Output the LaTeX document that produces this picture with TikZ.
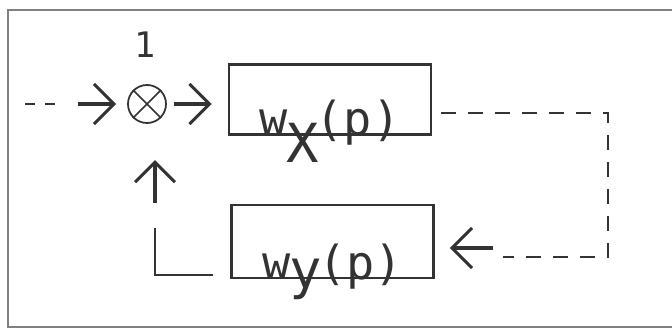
\documentclass[tikz,border=0pt]{standalone}
\usepackage{fontspec}
\setmonofont{DejaVu Sans Mono}
\usepackage{tikz}
\usetikzlibrary{positioning,arrows.meta,calc}

\newcommand{\lowsub}[2]{\raisebox{#1}{\fontsize{46}{50}\selectfont #2}}

\begin{document}
\begin{tikzpicture}[x=0.03cm,y=-0.03cm,
  blk/.style={draw=black!80,line width=2.4pt,minimum width=6.06cm,
              minimum height=2.1cm,inner sep=0pt},
  lbl/.style={font=\ttfamily\fontsize{40}{44}\selectfont,text=black!80,inner sep=0pt,anchor=base},
  arr/.style={draw=black!80,line width=2.8pt,
              -{Straight Barb[length=6mm,width=12mm,line width=2.6pt]}},
  ln/.style={draw=black!80,line width=2.2pt},
  dsh/.style={ln,line width=1.9pt,dash pattern=on 0.45cm off 0.36cm},
  frm/.style={draw=black!50,line width=1pt}]
\useasboundingbox (0,0) rectangle (672,329);
\draw[frm] (672,10) -- (8,10) -- (8,327) -- (672,327);
% multiplier and the two blocks
\node[draw=black!80,circle,line width=1.5pt,minimum size=1.14cm,inner sep=0pt] (mul) at (147,104) {};
\draw[black!80,line width=1.3pt] (mul.north west) -- (mul.south east) (mul.north east) -- (mul.south west);
\node[font=\ttfamily\fontsize{30}{34}\selectfont,text=black!80,inner sep=0pt] (one) at (145,45) {1};
\node[blk] (wx) at (330,99.5) {};
\node[blk,minimum height=2.19cm] (wy) at (332.5,241.5) {};
\node[lbl] (tx) at (wx.south) {w\kern-1pt\lowsub{-23pt}{X}\kern-3pt(p)};
\node[lbl] (ty) at (wy.south) {w\kern-1pt\lowsub{-8pt}{y}\kern-3pt(p)};
% input
\coordinate (in) at (25,104);
\coordinate (ind) at (62,104);
\coordinate (ina) at (78,104);
\draw[dsh,dash pattern=on 0.3cm off 0.3cm] (in) -- (ind);
\draw[arr,shorten >=0.33cm] (ina) -- (mul);
\draw[arr,shorten <=0.21cm,shorten >=0.48cm] (mul) -- (mul -| wx.west);
% feedback path
\coordinate (r1) at (441,113);
\coordinate (rc) at (608,257);
\coordinate (r3) at (503,257);
\draw[dsh] (r1) -| (rc) -- (r3);
\coordinate (fbin) at (493,248);
\draw[arr,shorten >=0.45cm] (fbin) -- (fbin -| wy.east);
\coordinate (fb) at (213,275);
\coordinate (fbtop) at (155,228);
\draw[ln] (fb) -| (fbtop);
\coordinate (fbup) at (155,203);
\coordinate (fbtip) at (155,160);
\draw[arr] (fbup) -- (fbtip);
\end{tikzpicture}
\end{document}
